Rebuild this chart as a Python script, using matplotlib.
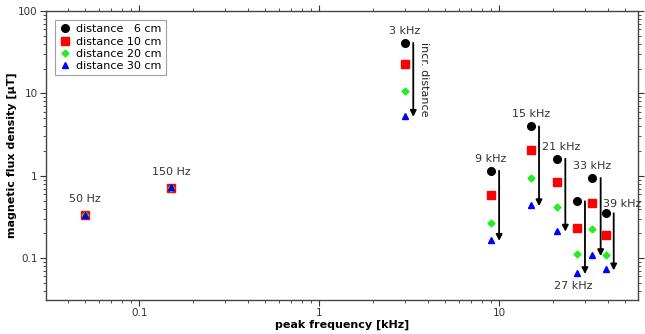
import numpy as np
import matplotlib.pyplot as plt
from matplotlib.ticker import LogLocator, FuncFormatter, NullFormatter

# peak frequencies [kHz]
freq = [0.05, 0.15, 3, 9, 15, 21, 27, 33, 39]
freq_labels = ["50 Hz", "150 Hz", "3 kHz", "9 kHz", "15 kHz", "21 kHz", "27 kHz", "33 kHz", "39 kHz"]

# magnetic flux density [uT] per distance
b_6cm = [0.33, 0.71, 41, 1.15, 3.97, 1.61, 0.49, 0.94, 0.35]
b_10cm = [0.33, 0.71, 23, 0.58, 2.03, 0.84, 0.235, 0.47, 0.19]
b_20cm = [0.33, 0.71, 10.8, 0.27, 0.94, 0.42, 0.112, 0.225, 0.109]
b_30cm = [0.335, 0.73, 5.35, 0.167, 0.44, 0.216, 0.066, 0.109, 0.073]

series = [
    ("distance   6 cm", b_6cm, "o", "black", 5.5),
    ("distance 10 cm", b_10cm, "s", "red", 5.5),
    ("distance 20 cm", b_20cm, "D", "#22ee22", 3.5),
    ("distance 30 cm", b_30cm, "^", "blue", 5),
]

fig = plt.figure(figsize=(6.45, 3.34), dpi=100)
ax = fig.add_axes([0.0713, 0.1018, 0.9177, 0.8652])
ax.set_xscale("log")
ax.set_yscale("log")

for name, vals, m, c, ms in series:
    ax.plot(freq, vals, m, color=c, markersize=ms, linestyle="none", label=name)

# arrows for the kHz peaks (from 6 cm down to 30 cm)
for i in range(2, len(freq)):
    xa = freq[i] * 1.11
    ax.annotate("", xy=(xa, b_30cm[i] * 0.97), xytext=(xa, b_6cm[i]),
                arrowprops=dict(arrowstyle="-|>", color="black", lw=1.3,
                                mutation_scale=9, shrinkA=0, shrinkB=0))

# frequency labels
for i, lab in enumerate(freq_labels):
    if lab == "27 kHz":
        ax.annotate(lab, (freq[i] * 0.96, b_30cm[i]), xytext=(0, -6),
                    textcoords="offset points", ha="center", va="top", fontsize=8, color="#333333")
    elif lab == "39 kHz":
        ax.annotate(lab, (freq[i] * 1.24, b_6cm[i]), xytext=(0, 3),
                    textcoords="offset points", ha="center", va="bottom", fontsize=8, color="#333333")
    elif lab in ("50 Hz", "150 Hz"):
        ax.annotate(lab, (freq[i], b_6cm[i]), xytext=(0, 8),
                    textcoords="offset points", ha="center", va="bottom", fontsize=8, color="#333333")
    elif lab == "21 kHz":
        ax.annotate(lab, (freq[i] * 1.05, b_6cm[i]), xytext=(0, 5),
                    textcoords="offset points", ha="center", va="bottom", fontsize=8, color="#333333")
    else:
        ax.annotate(lab, (freq[i], b_6cm[i]), xytext=(0, 5),
                    textcoords="offset points", ha="center", va="bottom", fontsize=8, color="#333333")

ax.text(3 * 1.2, 15, "incr. distance", rotation=-90, ha="left", va="center", fontsize=8, color="#222222")

ax.set_xlim(0.0303, 59)
ax.set_ylim(0.031, 100)

fmt = FuncFormatter(lambda v, p: ("%g" % v))
ax.xaxis.set_major_locator(LogLocator(base=10))
ax.xaxis.set_major_formatter(fmt)
ax.xaxis.set_minor_formatter(NullFormatter())
ax.yaxis.set_major_locator(LogLocator(base=10))
ax.yaxis.set_major_formatter(fmt)
ax.yaxis.set_minor_formatter(NullFormatter())
ax.xaxis.set_minor_locator(LogLocator(base=10, subs=np.arange(2, 10)))
ax.yaxis.set_minor_locator(LogLocator(base=10, subs=np.arange(2, 10)))

ax.tick_params(which="both", direction="out", labelsize=7.5, colors="#333333", pad=2)
ax.tick_params(which="major", length=4)
ax.tick_params(which="minor", length=2.5)
ax.tick_params(which="both", top=True, right=True, labeltop=False, labelright=False)
for sp in ax.spines.values():
    sp.set_color("#444444")
    sp.set_linewidth(1.0)

ax.set_xlabel("peak frequency [kHz]", fontsize=8, fontweight="bold", labelpad=1)
ax.set_ylabel("magnetic flux density [µT]", fontsize=8, fontweight="bold", labelpad=1)

leg = ax.legend(loc="upper left", fontsize=8, frameon=True, fancybox=False,
                handlelength=1.0, handletextpad=0.5, borderpad=0.4, labelspacing=0.2,
                borderaxespad=0.8)
leg.get_frame().set_edgecolor("#888888")
leg.get_frame().set_linewidth(0.8)

fig.savefig("out.png", dpi=100)
